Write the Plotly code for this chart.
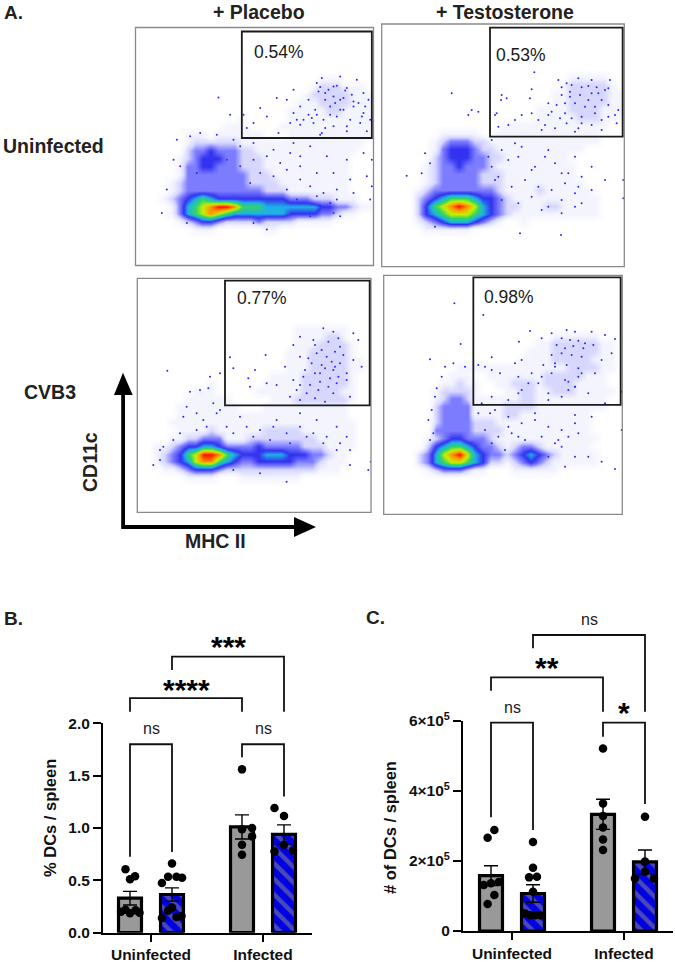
import plotly.graph_objects as go

W, H = 675, 962
FONT = "Liberation Sans"
INK = "#222222"

# ---------- Panel A: density grids (digit = density level) ----------
dens_1 = ["", "", "", "", "", "",
 "000000000000000000000001110000",
 "000000000000000000000012221110",
 "000000000000000000000122222111",
 "000000000000000000001112222111",
 "000000000000000000011111221111",
 "000000000000010000011111111111",
 "000000000001110000111111111111",
 "000000111011111100011111111111",
 "000000122222211111111111111110",
 "000000233433322111111111111100",
 "000001234443322211111111111000",
 "000001334433322211111111111000",
 "000001333333332221111111111000",
 "000012333333332222111111111000",
 "000012333333333322211111111000",
 "000123456544444444433322211100",
 "000013567899866655555554433211",
 "000013567876555555544443321100",
 "000001234432222322221111100000",
 "000000011100000011000000000000"]
dens_2 = ["", "", "", "", "", "",
 "000000000000000000000001111100",
 "000000000000000000000012222210",
 "000000000000000000000112222211",
 "000000000000000000000112222211",
 "000000000000000000011112222111",
 "000000000000000000011111222111",
 "000000000000000111111111111100",
 "000000011111001111111111111000",
 "000000123332211111111111111000",
 "000000134443221111111111100000",
 "000000234443322111111110000000",
 "000001233433321111111111000000",
 "000001233333222111111111000000",
 "000001233333222111111111100000",
 "000012333333332111121111110000",
 "000023456665443211111111111000",
 "000024678987543221112211111000",
 "000024567776543211111111111000",
 "000012345554321001000000000000",
 "000001111110000000000000000000"]
dens_3 = ["", "", "", "", "", "",
 "000000000000000000001111111000",
 "000000000000000000001111221000",
 "000000000000000000001112222100",
 "000000000000000000011122222100",
 "000000000000000000011122222110",
 "000000000000000000011122222110",
 "000000000000000001111222222100",
 "000000000100000011111222222100",
 "000000011100000111111222221100",
 "000000111111000001112222222100",
 "000001111111100011111111111000",
 "000001111111111111111111111000",
 "000011111111111111111111111100",
 "000001111211111122222111111100",
 "000011223331112222222221111100",
 "001123445543333433333222111100",
 "001234679986544455544433211000",
 "001234578865433444443332111000",
 "000112344432222222222221110000",
 "000000111100011111111000000000"]
dens_4 = ["", "", "", "", "", "", "",
 "000000000000000000000111111000",
 "000000000000000000011222222110",
 "000000000000000000111222222110",
 "000000000000000001111222221110",
 "000000000111111111111112222110",
 "000000001110011111112222211100",
 "000000011211001122212222111100",
 "000000122221000112211222111110",
 "000000123321111112211111111100",
 "000000233331111222211111111100",
 "000000233331111221111111110000",
 "000000233332221111111111110000",
 "000000333332222111111111110000",
 "000001234433321111111111111000",
 "000002456654332123321111110000",
 "000023578975433234543211111000",
 "000023567765422123432111111000",
 "000001233321100011111100000000"]

# sparse events (axis unit: 1/3 px of the panel)
dots_x_1 = [950,965,1020,1000,975,1040,1070,1090,1105,880,860,830,780,730,800,880,900,925,945,990,1020,1060,1090,870,910,940,975,1010,1040,1080,1100,740,760,835,960,655,690,1000,955,1030,720,760,820,880,930,980,1040,1090,1000,950,900,1050,1100,1110,1060,1010,1020,960,1000,530,520,500,485,800,760,560,1115,1115,
            760,800,840,870,900,780,820,860,750,720,930,970,1010,900,950,990,860,890,930,570,600,650,700,540,590,680,
            960,985,1010,1035,1055,975,1005,1030,1060,950,990,1020,1075,935,970,1050,900,925,890,1095,1110,1000,965,1040,1085]
dots_y_1 = [250,235,230,260,280,265,240,280,300,270,300,295,325,345,350,340,320,300,330,320,300,320,340,370,360,370,385,350,380,370,395,385,370,400,405,293,345,290,275,330,440,430,450,430,440,470,480,460,520,520,500,540,530,600,580,600,650,620,640,420,480,570,640,690,670,670,480,560,
            480,470,490,460,470,520,530,510,550,500,560,580,570,540,590,610,570,600,650,410,400,405,420,500,520,480,
            262,270,258,272,285,300,310,295,305,345,345,330,310,355,360,360,375,345,360,320,360,380,400,395,350]
dots_x_2 = [478,230,470,380,378,395,365,360,465,520,550,575,610,650,705,700,670,585,640,730,700,660,620,570,520,490,470,440,420,400,370,500,600,680,725,290,310,280,350,420,520,600,650,560,480,430,600,650,690,745,745,620,560,500,435,558,95,180,
            380,400,440,470,510,540,580,620,370,410,450,490,530,570,610,380,430,470,520,560,600,150,140,165,340,350,360,
            560,590,620,640,665,690,560,585,615,650,680,545,570,600,630,660,700,530,555,590,620,680,720,510,540,575,610,650]
dots_y_2 = [217,280,268,285,300,295,340,345,295,310,240,250,235,240,240,265,280,290,300,330,350,340,370,340,345,360,340,345,360,375,380,390,395,390,370,330,335,345,420,430,450,470,500,520,500,470,580,570,540,540,595,610,640,630,700,705,527,680,
            450,480,440,510,470,490,520,530,530,560,540,560,570,550,560,600,610,590,620,600,620,460,520,490,470,500,540,
            262,255,262,258,262,270,285,275,285,280,300,315,310,310,320,320,315,335,355,355,350,360,345,375,385,370,385,375]
dots_x_3 = [502,630,690,797,765,745,700,660,750,800,855,830,870,900,880,940,970,1000,1060,1075,1020,965,925,900,1060,1085,1040,1000,960,910,880,1050,1000,945,600,625,570,550,590,640,680,720,830,900,950,1010,1040,1050,1050,1112,1105,860,700,780,460,480,
            560,610,660,700,740,780,820,860,900,940,980,1020,760,810,870,920,970,1010,620,650,590,540,520,490,480,
            945,985,1015,950,980,1005,1030,935,965,995,1020,915,945,975,1005,1040,900,930,960,990,1015,890,920,955,985,1010,900,975]
dots_y_3 = [302,320,262,255,300,325,295,310,350,340,290,345,380,200,225,210,175,185,190,210,230,240,265,260,270,290,310,300,310,320,330,380,370,385,360,355,365,440,430,400,470,440,450,430,450,470,500,540,585,575,600,635,600,610,585,540,
            410,450,420,490,470,480,470,490,470,490,500,520,500,510,520,500,520,540,470,430,480,490,510,530,570,
            225,215,205,250,260,245,255,280,285,275,280,300,310,295,290,330,345,345,335,325,320,360,370,360,350,340,390,395]
dots_x_4 = [238,325,165,257,465,432,500,530,575,600,650,690,720,710,680,660,610,570,600,540,470,440,420,350,330,310,375,350,320,350,400,430,490,520,640,690,210,235,270,185,170,160,345,400,480,600,650,610,550,640,680,720,570,740,740,
            310,360,400,440,480,520,560,600,330,370,410,450,500,540,580,350,390,430,520,560,600,180,200,175,165,
            560,585,610,630,545,570,595,625,655,530,560,590,620,505,540,575,610,500,530,580,620,580,600,440,430,460,520,560]
dots_y_4 = [100,135,268,222,183,215,205,190,180,185,185,195,207,250,270,310,320,330,350,290,310,270,280,262,290,285,310,300,400,380,390,370,340,390,370,400,290,280,290,355,420,450,430,470,430,435,440,490,510,560,575,597,590,480,365,
            430,420,440,460,450,470,480,460,480,500,490,510,500,520,500,520,540,500,560,530,560,380,320,490,510,
            205,210,212,220,225,235,228,235,225,255,250,255,260,285,280,285,295,320,310,335,310,360,350,360,320,340,370,380]

pct_labels = ["0.54%", "0.53%", "0.77%", "0.98%"]

# ---------- Panels B / C ----------
groups = ["Uninfected", "Infected"]
b_gray_mean = [0.33, 1.01];  b_gray_sem = [0.065, 0.115]
b_blue_mean = [0.365, 0.94]; b_blue_sem = [0.063, 0.09]
b_u_gray_off = [-.04, 0, .045, -.08, -.04, 0, .05, .085]
b_u_gray = [.605, .51, .54, .20, .22, .185, .215, .19]
b_u_blue_off = [0, -.035, .04, .09, -.09, -.09, -.035, .04, .085, 0]
b_u_blue = [.66, .535, .535, .525, .475, .14, .21, .15, .16, .24]
b_i_gray_off = [0, 0, .09, .09, 0, 0]
b_i_gray = [1.56, .987, 1.0, .92, .84, .745]
b_i_blue_off = [-.085, 0, 0, -.085, .08]
b_i_blue = [1.19, 1.115, .84, .775, .785]

c_gray_mean = [158000, 333000]; c_gray_sem = [28000, 43000]
c_blue_mean = [107000, 197000]; c_blue_sem = [25000, 34000]
c_u_gray_off = [-.03, .03, -.065, 0, .07, .03, -.03]
c_u_gray = [266300, 288200, 131000, 136000, 140000, 102700, 77000]
c_u_blue_off = [0, 0, -.035, .035, 0, -.07, -.025, .02, .065]
c_u_blue = [253900, 180700, 153000, 155000, 112000, 50000, 45000, 45000, 45000]
c_i_gray_off = [0, 0, 0, 0, 0, 0]
c_i_gray = [521000, 364000, 328000, 295000, 261000, 231000]
c_i_blue_off = [0, 0, 0, -.09, .08]
c_i_blue = [326000, 198000, 169000, 150000, 150000]

# brackets: x-left, x-right, y-left foot, y-top, y-right foot
OFF = 0.1875
b_brackets = [(1-OFF, 1+OFF, .726, 1.80, .77), (2-OFF, 2+OFF, 1.675, 1.80, 1.30),
              (1-OFF, 2-OFF, 2.11, 2.24, 2.11), (1+OFF, 2+OFF, 2.51, 2.636, 2.11)]
c_brackets = [(1-OFF, 1+OFF, 324300, 594400, 288200), (2-OFF, 2+OFF, 554400, 594400, 362300),
              (1-OFF, 2-OFF, 685700, 723700, 625800), (1+OFF, 2+OFF, 806400, 844500, 625800)]

def X(p): return p / W
def Y(p): return 1 - p / H

panels = [
    dict(px=(135.5, 373.5, 27.5, 265.5), rd=(406, 1120, 83, 798), gate=(725, 1115, 95, 415), d=dens_1, dx=dots_x_1, dy=dots_y_1),
    dict(px=(381.7, 624.3, 24, 266.7), rd=(20, 748, 72, 800), gate=(345, 743, 83, 410), d=dens_2, dx=dots_x_2, dy=dots_y_2),
    dict(px=(137.3, 371, 278.3, 512.3), rd=(412, 1113, 25, 727), gate=(675, 1109, 32, 406), d=dens_3, dx=dots_x_3, dy=dots_y_3),
    dict(px=(383.7, 622.3, 275.3, 514.3), rd=(26, 742, 16, 733), gate=(295, 737, 22, 405), d=dens_4, dx=dots_x_4, dy=dots_y_4),
]
jet = [[0, "#ffffff"], [1/9, "#f4f4ff"], [2/9, "#d6d6ff"], [3/9, "#7c7cff"], [4/9, "#3232f0"],
       [5/9, "#20b0e8"], [6/9, "#30d468"], [7/9, "#c8f000"], [8/9, "#ff9000"], [1, "#f81000"]]

fig = go.Figure()
shapes, ann = [], []
layout = {}
for i, p in enumerate(panels, 1):
    l, r, t, b = p["px"]
    x0, x1, y0, y1 = p["rd"]
    sx = "" if i == 1 else str(i)
    n = 30
    cw, ch = (x1 - x0) / n, (y1 - y0) / n
    z = [[int(c) for c in row.ljust(n, "0")[:n]] for row in p["d"]]
    z += [[0] * n for _ in range(n - len(z))]
    fig.add_trace(go.Heatmap(z=z, x=[x0 + cw * (k + .5) for k in range(n)], y=[y0 + ch * (k + .5) for k in range(n)],
                             colorscale=jet, zmin=0, zmax=9, showscale=False, zsmooth="best",
                             xaxis="x" + sx, yaxis="y" + sx, hoverinfo="skip"))
    fig.add_trace(go.Scatter(x=p["dx"], y=p["dy"], mode="markers", xaxis="x" + sx, yaxis="y" + sx,
                             marker=dict(size=2, color="#2828ff", line=dict(width=0)), hoverinfo="skip"))
    layout["xaxis" + sx] = dict(domain=[X(l), X(r)], range=[x0, x1], visible=False, fixedrange=True, anchor="y" + sx)
    layout["yaxis" + sx] = dict(domain=[Y(b), Y(t)], range=[y1, y0], visible=False, fixedrange=True, anchor="x" + sx)
    shapes.append(dict(type="rect", xref="paper", yref="paper", x0=X(l), x1=X(r), y0=Y(b), y1=Y(t),
                       line=dict(color="#8a8a8a", width=1.3)))
    g = p["gate"]
    shapes.append(dict(type="rect", xref="x" + sx, yref="y" + sx, x0=g[0], x1=g[1], y0=g[2], y1=g[3],
                       line=dict(color="#1a1a1a", width=1.8)))

# arrows
shapes += [
    dict(type="path", xref="paper", yref="paper", line=dict(width=0), fillcolor="black",
         path=f"M {X(121.2)} {Y(395)} L {X(121.2)} {Y(529)} L {X(294)} {Y(529)} L {X(294)} {Y(537)} L {X(316)} {Y(527)} L {X(294)} {Y(517)} L {X(294)} {Y(525)} L {X(125)} {Y(525)} L {X(125)} {Y(395)} L {X(132.7)} {Y(395)} L {X(123)} {Y(372.7)} L {X(114)} {Y(395)} Z"),
]

def txt(s, x, y, size, bold=True, color=INK, angle=0, xanchor="center"):
    s2 = f"<b>{s}</b>" if bold else s
    ann.append(dict(text=s2, x=X(x), y=Y(y), xref="paper", yref="paper", showarrow=False, xanchor=xanchor,
                    yanchor="middle", textangle=angle, font=dict(family=FONT, size=size, color=color)))

txt("A.", 2, 12, 19, xanchor="left")
txt("+ Placebo", 259, 12, 19.5)
txt("+ Testosterone", 505, 12, 19.5)
txt("Uninfected", 53, 146, 19.5)
txt("CVB3", 50, 392, 19.5)
txt("CD11c", 90, 462, 19.5, angle=-90)
txt("MHC II", 215, 541, 19.5)
txt("B.", 2, 618, 19, xanchor="left")
txt("C.", 364, 617, 19, xanchor="left")
for s, x, y in zip(pct_labels, [252, 494, 235, 482], [52, 55, 298, 297]):
    txt(s, x, y, 17.5, bold=False, color="#1a1a1a", xanchor="left")
txt("% DCs / spleen", 50, 818, 16.5, angle=-90, color="#111111")
txt("# of DCs / spleen", 390, 827, 16.5, angle=-90, color="#111111")
txt("ns", 151, 728, 16, bold=False); txt("ns", 263, 728, 16, bold=False)
txt("****", 186, 689, 30, color="black"); txt("***", 228, 646, 30, color="black")
txt("ns", 512, 707, 16, bold=False); txt("ns", 589, 619, 16, bold=False)
txt("**", 547, 667, 30, color="black"); txt("*", 624, 712, 30, color="black")

def chart(sfx, xdom, ydom, xr, yr, tv, tt, gm, gs, bm, bs, pts, brackets):
    xa, ya = "x" + sfx, "y" + sfx
    fig.add_trace(go.Bar(x=[c - OFF for c in (1, 2)], y=gm, width=.205, xaxis=xa, yaxis=ya,
                         marker=dict(color="#999999", line=dict(color="black", width=3.2)),
                         error_y=dict(type="data", array=gs, color="black", thickness=1.4, width=7), hoverinfo="skip"))
    fig.add_trace(go.Bar(x=[c + OFF for c in (1, 2)], y=bm, width=.205, xaxis=xa, yaxis=ya,
                         marker=dict(color="#0000e0", line=dict(color="black", width=3.2),
                                     pattern=dict(shape="\\", fgcolor="#8f8f8f", bgcolor="#0000e0", size=11, solidity=.4)),
                         error_y=dict(type="data", array=bs, color="black", thickness=1.4, width=7), hoverinfo="skip"))
    for base, off, val in pts:
        fig.add_trace(go.Scatter(x=[base + o for o in off], y=val, mode="markers", xaxis=xa, yaxis=ya, cliponaxis=False,
                                 marker=dict(size=8.5, color="black"), hoverinfo="skip"))
    # brackets sit above the axis range, so place them through the axis scale in page coordinates
    def sx_(v): return X(xdom[0] + (v - xr[0]) / (xr[1] - xr[0]) * (xdom[1] - xdom[0]))
    def sy_(v): return Y(ydom[0] + (v - yr[0]) / (yr[1] - yr[0]) * (ydom[1] - ydom[0]))
    for (a, b, yl, yt, yr2) in brackets:
        shapes.append(dict(type="path", xref="paper", yref="paper", layer="above", line=dict(color="#111111", width=1.8),
                           path=f"M {sx_(a)} {sy_(yl)} L {sx_(a)} {sy_(yt)} L {sx_(b)} {sy_(yt)} L {sx_(b)} {sy_(yr2)}"))
    layout["xaxis" + sfx] = dict(domain=[X(xdom[0]), X(xdom[1])], range=xr, anchor=ya, tickvals=[1, 2], ticktext=groups,
                                 ticks="outside", ticklen=7, tickwidth=2, tickcolor="black", showline=True, linecolor="black",
                                 linewidth=2, showgrid=False, zeroline=False, fixedrange=True,
                                 tickfont=dict(family=FONT, size=15.5, color="#111111", weight="bold"))
    layout["yaxis" + sfx] = dict(domain=[Y(ydom[0]), Y(ydom[1])], range=yr, anchor=xa, tickvals=tv, ticktext=tt,
                                 ticks="outside", ticklen=8, tickwidth=2, tickcolor="black", showline=True, linecolor="black",
                                 linewidth=2, showgrid=False, zeroline=False, fixedrange=True,
                                 tickfont=dict(family=FONT, size=15.5, color="#111111", weight="bold"))

chart("5", (103, 312), (932.7, 723.3), [1 - 48/112, 2 + 49/112], [0, 2], [0, .5, 1, 1.5, 2], ["0.0", "0.5", "1.0", "1.5", "2.0"],
      b_gray_mean, b_gray_sem, b_blue_mean, b_blue_sem,
      [(1-OFF, b_u_gray_off, b_u_gray), (1+OFF, b_u_blue_off, b_u_blue), (2-OFF, b_i_gray_off, b_i_gray), (2+OFF, b_i_blue_off, b_i_blue)],
      b_brackets)
chart("6", (463, 673), (931, 720.7), [1 - 49/112, 2 + 49/112], [0, 600000], [0, 200000, 400000, 600000],
      ["0", "2×10<sup>5</sup>", "4×10<sup>5</sup>", "6×10<sup>5</sup>"],
      c_gray_mean, c_gray_sem, c_blue_mean, c_blue_sem,
      [(1-OFF, c_u_gray_off, c_u_gray), (1+OFF, c_u_blue_off, c_u_blue), (2-OFF, c_i_gray_off, c_i_gray), (2+OFF, c_i_blue_off, c_i_blue)],
      c_brackets)

fig.update_layout(width=W, height=H, margin=dict(l=0, r=0, t=0, b=0, autoexpand=False), paper_bgcolor="white", plot_bgcolor="rgba(0,0,0,0)",
                  showlegend=False, barmode="overlay", shapes=shapes, annotations=ann, **layout)
fig.write_html("out.html", config={"displayModeBar": False},
               post_script="document.body.style.margin='0';document.documentElement.style.overflow='hidden';")
